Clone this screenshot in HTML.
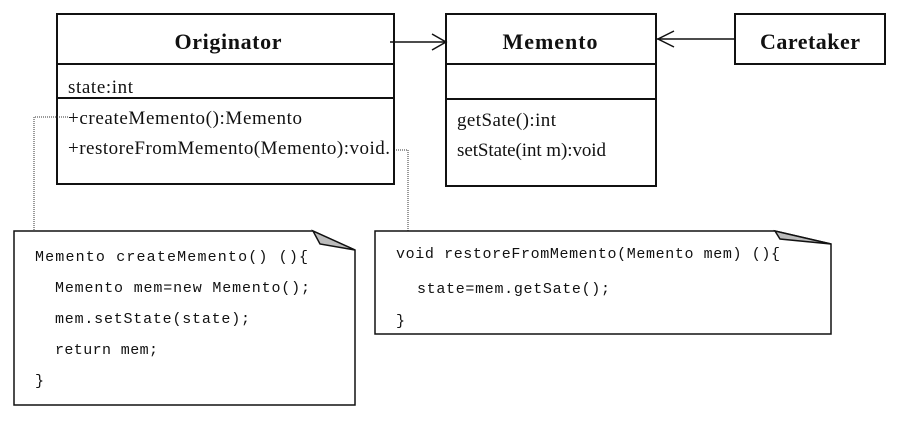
<!DOCTYPE html>
<html><head><style>
body{margin:0;background:#fff;width:900px;height:423px;overflow:hidden}
svg text{fill:#111}
.s{font-family:"Liberation Serif",serif;font-size:19px}
.b{font-family:"Liberation Serif",serif;font-size:22px;font-weight:bold}
.m{font-family:"Liberation Mono",monospace;font-size:15px}
</style></head><body>
<svg width="900" height="423" xmlns="http://www.w3.org/2000/svg">
<g fill="none" stroke="#111" stroke-width="2">
<rect x="57" y="14" width="337" height="170"/>
<line x1="57" y1="64" x2="394" y2="64"/>
<line x1="57" y1="98" x2="394" y2="98"/>
<rect x="446" y="14" width="210" height="172"/>
<line x1="446" y1="64" x2="656" y2="64"/>
<line x1="446" y1="99" x2="656" y2="99"/>
<rect x="735" y="14" width="150" height="50"/>
</g>
<g fill="none" stroke="#111" stroke-width="1.5">
<line x1="390" y1="42" x2="446" y2="42"/>
<polyline points="432,34 446,42 432,50"/>
<line x1="735" y1="39" x2="657" y2="39"/>
<polyline points="674,31 658,39 674,47"/>
</g>
<g fill="none" stroke="#333" stroke-width="1" stroke-dasharray="1,1">
<polyline points="68,117 34,117 34,231"/>
<polyline points="396,150 408,150 408,237"/>
</g>
<g stroke="#111" stroke-width="1.5">
<polygon points="14,231 313,231 355,250 355,405 14,405" fill="#fff"/>
<polygon points="313,231 355,250 320,244" fill="#bbb"/>
<polygon points="375,231 775,231 831,244 831,334 375,334" fill="#fff"/>
<polygon points="775,231 831,244 780,239" fill="#bbb"/>
</g>
<text class="b" x="228" y="49" text-anchor="middle" textLength="107">Originator</text>
<text class="b" x="550" y="49" text-anchor="middle" textLength="95">Memento</text>
<text class="b" x="810" y="49" text-anchor="middle" textLength="100">Caretaker</text>
<text class="s" x="68" y="93" textLength="65">state:int</text>
<text class="s" x="68" y="124" textLength="234">+createMemento():Memento</text>
<text class="s" x="68" y="154" textLength="322">+restoreFromMemento(Memento):void.</text>
<text class="s" x="457" y="126" textLength="99">getSate():int</text>
<text class="s" x="457" y="156" textLength="149">setState(int m):void</text>
<text class="m" x="35" y="261" textLength="273">Memento createMemento() (){</text>
<text class="m" x="55" y="292" textLength="255">Memento mem=new Memento();</text>
<text class="m" x="55" y="323" textLength="195">mem.setState(state);</text>
<text class="m" x="55" y="354" textLength="103">return mem;</text>
<text class="m" x="35" y="385">}</text>
<text class="m" x="396" y="258" textLength="384">void restoreFromMemento(Memento mem) (){</text>
<text class="m" x="417" y="293" textLength="193">state=mem.getSate();</text>
<text class="m" x="396" y="325">}</text>
</svg>
</body></html>
